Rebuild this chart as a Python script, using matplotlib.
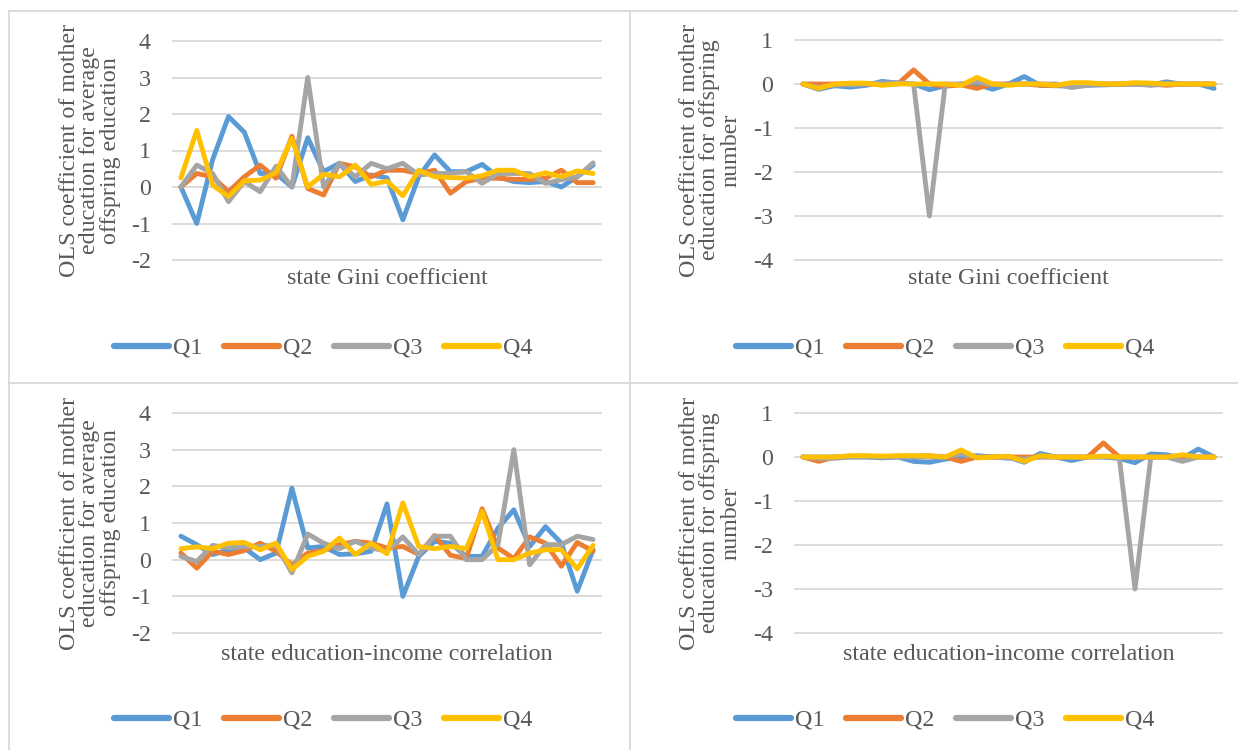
import numpy as np
import matplotlib
matplotlib.use('Agg')
import matplotlib.pyplot as plt
from matplotlib.lines import Line2D

plt.rcParams['font.family'] = ['Liberation Serif', 'DejaVu Serif']

# ---------------------------------------------
# Coefficients by quartile, 27 states per panel
# ---------------------------------------------
series_names = ['Q1', 'Q2', 'Q3', 'Q4']
series_colors = ['#5B9BD5', '#ED7D31', '#A5A5A5', '#FFC000']

# mother education -> average offspring education, sorted by Gini
gini_edu_q1 = [0, -1.0, 0.75, 1.93, 1.5, 0.37, 0.37, 0.0, 1.35, 0.42, 0.65, 0.15, 0.33, 0.25,
               -0.9, 0.28, 0.88, 0.42, 0.42, 0.62, 0.28, 0.15, 0.12, 0.15, 0.0, 0.28, 0.6]
gini_edu_q2 = [0, 0.37, 0.28, -0.13, 0.28, 0.6, 0.24, 1.39, -0.04, -0.22, 0.65, 0.55, 0.28, 0.46,
               0.46, 0.37, 0.46, -0.17, 0.15, 0.24, 0.24, 0.21, 0.21, 0.24, 0.46, 0.12, 0.12]
gini_edu_q3 = [0, 0.6, 0.37, -0.4, 0.15, -0.13, 0.57, 0.0, 3.0, 0.0, 0.65, 0.28, 0.65, 0.5,
               0.65, 0.33, 0.37, 0.37, 0.42, 0.1, 0.37, 0.37, 0.37, 0.1, 0.2, 0.28, 0.66]
gini_edu_q4 = [0.25, 1.55, 0.05, -0.26, 0.17, 0.19, 0.39, 1.33, 0.0, 0.35, 0.28, 0.6, 0.07, 0.16,
               -0.24, 0.46, 0.28, 0.26, 0.24, 0.31, 0.46, 0.46, 0.28, 0.39, 0.28, 0.44, 0.37]

# mother education -> offspring number, sorted by Gini
gini_num_q1 = [0, -0.12, -0.04, -0.07, -0.03, 0.06, 0.02, 0.0, -0.13, -0.04, 0.0, -0.01, -0.12, 0.0,
               0.17, -0.03, -0.04, -0.05, -0.03, -0.02, -0.01, 0.0, -0.02, 0.05, -0.01, 0.0, -0.1]
gini_num_q2 = [0, 0.0, 0.0, 0.0, 0.0, 0.0, 0.0, 0.32, 0.0, -0.05, -0.02, -0.1, 0.0, 0.0,
               0.0, -0.03, -0.03, -0.02, 0.0, 0.0, 0.0, 0.0, 0.0, -0.03, 0.0, 0.0, 0.0]
gini_num_q3 = [0, -0.08, -0.02, -0.02, 0.0, 0.02, 0.03, 0.0, -3.0, 0.0, 0.0, 0.05, -0.02, 0.0,
               0.0, 0.0, 0.0, -0.08, -0.03, 0.0, 0.0, 0.0, -0.03, 0.0, 0.0, 0.0, 0.0]
gini_num_q4 = [0, -0.1, 0.0, 0.02, 0.02, -0.03, 0.0, 0.0, 0.0, 0.0, -0.03, 0.15, 0.0, -0.03,
               0.0, 0.0, -0.03, 0.03, 0.03, 0.0, 0.0, 0.03, 0.02, 0.0, 0.0, 0.0, 0.0]

# mother education -> average offspring education, sorted by edu-income correlation
corr_edu_q1 = [0.64, 0.41, 0.14, 0.27, 0.32, 0.0, 0.18, 1.95, 0.32, 0.36, 0.14, 0.16, 0.23, 1.52,
               -1.0, 0.09, 0.5, 0.45, 0.09, 0.09, 0.86, 1.36, 0.36, 0.9, 0.45, -0.86, 0.27]
corr_edu_q2 = [0.18, -0.23, 0.23, 0.14, 0.25, 0.45, 0.23, -0.14, 0.18, 0.25, 0.41, 0.5, 0.45, 0.32,
               0.36, 0.14, 0.66, 0.12, 0.03, 1.39, 0.32, 0.03, 0.62, 0.45, -0.18, 0.47, 0.23]
corr_edu_q3 = [0.09, -0.05, 0.39, 0.32, 0.36, 0.36, 0.41, -0.36, 0.7, 0.45, 0.3, 0.5, 0.32, 0.23,
               0.62, 0.14, 0.64, 0.64, 0.0, 0.0, 0.41, 3.0, -0.14, 0.41, 0.41, 0.64, 0.55]
corr_edu_q4 = [0.3, 0.35, 0.3, 0.45, 0.47, 0.27, 0.45, -0.27, 0.09, 0.23, 0.59, 0.14, 0.45, 0.16,
               1.55, 0.36, 0.3, 0.36, 0.3, 1.32, 0.0, 0.0, 0.18, 0.27, 0.27, -0.25, 0.39]

# mother education -> offspring number, sorted by edu-income correlation
corr_num_q1 = [0, 0.0, 0.0, 0.0, 0.0, -0.02, 0.0, -0.1, -0.12, -0.05, 0.0, 0.03, 0.0, 0.0,
               -0.12, 0.08, 0.0, -0.08, 0.0, 0.0, -0.03, -0.13, 0.07, 0.05, -0.03, 0.18, 0.0]
corr_num_q2 = [0, -0.1, 0.0, 0.02, 0.02, 0.0, 0.02, 0.02, 0.03, 0.0, -0.1, 0.0, 0.0, 0.0,
               0.0, 0.0, 0.0, 0.0, 0.0, 0.32, 0.0, 0.0, 0.0, 0.0, 0.0, 0.0, 0.0]
corr_num_q3 = [0, -0.03, -0.03, 0.0, 0.0, 0.0, 0.0, 0.0, 0.0, 0.0, 0.07, 0.0, 0.0, -0.03,
               -0.05, 0.0, 0.0, 0.0, 0.0, 0.0, 0.0, -3.0, 0.0, 0.0, -0.1, 0.0, 0.0]
corr_num_q4 = [0, 0.0, 0.0, 0.03, 0.03, 0.02, 0.03, 0.03, 0.02, 0.0, 0.16, -0.02, 0.0, 0.02,
               -0.1, 0.03, 0.0, 0.0, 0.0, 0.02, 0.0, 0.0, 0.0, 0.0, 0.05, 0.0, 0.0]

edu_ylabel = 'OLS coefficient of mother\neducation for average\noffspring education'
num_ylabel = 'OLS coefficient of mother\neducation for offspring\nnumber'
edu_ticks = [-2, -1, 0, 1, 2, 3, 4]
num_ticks = [-4, -3, -2, -1, 0, 1]

W, H = 1238, 750
txt_col = '#595959'
grid_col = '#D9D9D9'
fs = 17.3

fig = plt.figure(figsize=(W / 100, H / 100), dpi=100)


def px_axes(left, top, right, bottom):
  return fig.add_axes([left / W, 1 - bottom / H, (right - left) / W, (bottom - top) / H])


def draw_panel(box, ylab_x, ylabel, xlabel, yticks, data, leg_x, leg_y, title_y):
  ax = px_axes(*box)
  x = np.arange(len(data[0]))
  for vals, name, col in zip(data, series_names, series_colors):
    ax.plot(x, vals, color=col, lw=3.5, label=name,
            solid_joinstyle='round', solid_capstyle='round', zorder=3)

  ax.set_xlim(-0.5, len(x) - 0.5)
  ax.set_ylim(yticks[0], yticks[-1])
  ax.set_yticks(yticks)
  ax.set_yticklabels([str(t) for t in yticks])
  ax.set_xticks([])
  ax.tick_params(axis='y', length=0, pad=16, labelsize=fs, labelcolor=txt_col)
  ax.yaxis.grid(True, color=grid_col, lw=1.3)
  for gl in ax.get_ygridlines():
    gl.set_clip_on(False)
  ax.set_axisbelow(True)
  for s in ax.spines.values():
    s.set_visible(False)
  ax.patch.set_alpha(0.0)

  cx = (box[0] + box[2]) / 2
  fig.text(cx / W, 1 - title_y / H, xlabel, ha='center', va='center',
           fontsize=fs, color=txt_col)
  fig.text(ylab_x / W, 1 - (box[1] + box[3]) / 2 / H, ylabel, rotation=90,
           ha='center', va='center', multialignment='center',
           fontsize=fs, color=txt_col, linespacing=0.98)

  handles = [Line2D([], [], color=c, lw=4.5, solid_capstyle='round') for c in series_colors]
  fig.legend(handles, series_names, loc='center', ncol=4, frameon=False,
             bbox_to_anchor=(leg_x / W, 1 - leg_y / H), fontsize=fs,
             labelcolor=txt_col, handlelength=2.3, handletextpad=0.15,
             columnspacing=0.9, borderaxespad=0, borderpad=0)
  return ax


draw_panel((173, 41, 601, 260), 90, edu_ylabel, 'state Gini coefficient', edu_ticks,
           [gini_edu_q1, gini_edu_q2, gini_edu_q3, gini_edu_q4], 323, 348, 279)
draw_panel((795, 40, 1222, 260), 710, num_ylabel, 'state Gini coefficient', num_ticks,
           [gini_num_q1, gini_num_q2, gini_num_q3, gini_num_q4], 945, 348, 279)
draw_panel((173, 413, 601, 633), 90, edu_ylabel, 'state education-income correlation', edu_ticks,
           [corr_edu_q1, corr_edu_q2, corr_edu_q3, corr_edu_q4], 323, 720, 654)
draw_panel((795, 413, 1222, 633), 710, num_ylabel, 'state education-income correlation', num_ticks,
           [corr_num_q1, corr_num_q2, corr_num_q3, corr_num_q4], 945, 720, 654)

# Chart frames
frame = dict(color=grid_col, lw=1.3, transform=fig.transFigure, zorder=0)
for xs, ys in [((9, 1238), (11, 11)), ((9, 9), (11, 750)), ((630, 630), (11, 750)),
               ((9, 1238), (383, 383))]:
  fig.add_artist(Line2D([v / W for v in xs], [1 - v / H for v in ys], **frame))

fig.savefig('out.png', dpi=100, facecolor='white')
plt.close(fig)
